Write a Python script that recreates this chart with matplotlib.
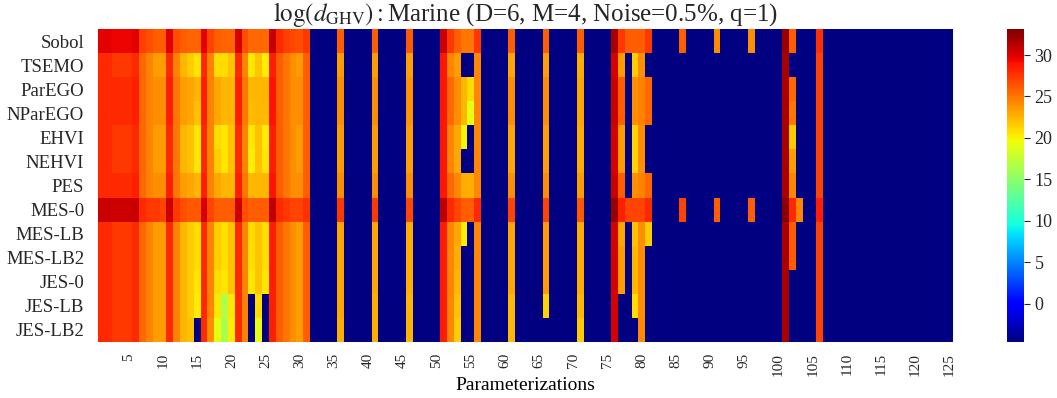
import numpy as np
import matplotlib
matplotlib.use("Agg")
import matplotlib.pyplot as plt

plt.rcParams["font.family"] = ["Liberation Serif", "DejaVu Serif"]
plt.rcParams["mathtext.fontset"] = "stix"
plt.rcParams["text.color"] = "#262626"
plt.rcParams["xtick.color"] = "#262626"
plt.rcParams["ytick.color"] = "#262626"

methods = ["Sobol", "TSEMO", "ParEGO", "NParEGO", "EHVI", "NEHVI", "PES",
           "MES-0", "MES-LB", "MES-LB2", "JES-0", "JES-LB", "JES-LB2"]
n_params = 125
LOW = -4.64  # value of the dark blue cells

# parameterizations 1-31, one list per method
warm_sobol = [29.8, 29.8, 29.5, 29.5, 29.5, 29.8, 27.2, 26.5, 26, 26, 30, 26.5, 26, 25.7, 25.7, 29.7,
              27, 26, 25.7, 25.7, 30.2, 26.5, 25.5, 25.5, 25.5, 30.8, 28, 27.2, 26.8, 26.5, 27.5]
warm_tsemo = [28, 28, 27.5, 27.5, 27.5, 28, 25.5, 24.5, 23.5, 23.5, 28, 24.5, 22.5, 21.5, 20.5, 28,
              24.5, 21, 21, 21.8, 28, 24.5, 20.5, 21.8, 20.3, 28.5, 26, 25, 24, 23.5, 26]
warm_parego = [28, 28, 28, 28, 28, 28.5, 25.5, 24.5, 24, 24, 28.5, 25, 23.5, 23, 22.5, 28.5,
               24.5, 23, 22.5, 22.5, 28.5, 25, 22.5, 22.5, 22.5, 29, 26, 25, 24, 24, 26]
warm_nparego = [28, 28, 28, 28, 28, 28.5, 25.5, 24.5, 24, 24, 28.5, 25, 23.5, 23, 22, 28.5,
                24.5, 23, 22.5, 22.5, 28.5, 25, 22.3, 22.5, 22.3, 29, 26, 25, 24, 24, 26]
warm_ehvi = [28, 28, 27.5, 27.5, 27.5, 28, 25.5, 24.5, 23.5, 23.5, 28, 25, 22.5, 22, 20.5, 28,
             24.5, 21, 20.5, 22, 28, 24.5, 20.5, 22, 20.3, 28.5, 26, 25, 24, 23.5, 26]
warm_nehvi = [28, 28, 27.5, 27.5, 27.5, 28, 25.5, 24.5, 23.5, 23.5, 28, 25, 22.5, 22, 20.5, 28,
              24.5, 21.5, 20.5, 22, 28, 24.5, 20.3, 22, 20.5, 28.5, 26, 25, 24, 23.5, 26]
warm_pes = [28, 28, 28, 28, 28, 28.5, 25.5, 24.5, 24, 24, 28.5, 25, 23.5, 23, 22.5, 28.5,
            24.5, 23, 22.5, 22.5, 28.5, 25, 22.5, 22.5, 22.5, 29, 26, 25, 24, 24, 26]
warm_mes0 = [30.7, 30.7, 30.5, 30.5, 30.5, 30.7, 28, 27.5, 27.5, 27, 30.5, 27.5, 26.5, 26.2, 26.2,
             30.2, 27, 26, 26, 26, 30.5, 26.5, 26, 26, 26, 31, 28, 27.5, 27, 27, 27.7]
warm_meslb = [28, 28, 27.5, 27.5, 27.5, 28, 25.5, 24.5, 23.5, 23.5, 28, 24.5, 22.5, 21.5, 20.8, 28,
              24.5, 21.5, 20.8, 21.8, 28, 24.5, 21, 21.8, 20.8, 28.5, 26, 25, 24, 23.5, 26]
warm_meslb2 = [28, 28, 27.5, 27.5, 27.5, 28, 25.5, 24.5, 23.5, 23.5, 28, 24.5, 22.5, 21.5, 20.8, 28,
               24.5, 21.5, 20.8, 21.8, 28, 24.5, 20.8, 21.8, 20.8, 28.5, 26, 25, 24, 23.5, 26]
warm_jes0 = [28, 28, 27.5, 27.5, 27.5, 28, 25.5, 24.5, 23.5, 23.5, 28, 24.5, 22.5, 21.5, 20.5, 28,
             24.5, 21, 20.5, 21.8, 28, 24.5, 20.5, 21.8, 20.5, 28.5, 26, 25, 24, 23.5, 26]
warm_jeslb = [28, 28, 27.5, 27.5, 27.5, 28, 25.5, 24.5, 23.5, 23.5, 28, 24.5, 22.5, 21.5, 20.3, 28,
              24.5, 20.5, 16.5, 20.5, 28, 24.5, LOW, 20.8, LOW, 28.5, 26, 25, 24, 23.5, 26]
warm_jeslb2 = [28, 28, 27.5, 27.5, 27.5, 28, 25.5, 24.5, 23.5, 23.5, 28, 24.5, 22.5, 22, LOW, 28,
               24, 19.2, 16.3, 20.3, 28, 24.5, LOW, 19.2, LOW, 28.5, 26, 25, 24, 23.5, 26]

# remaining parameterizations that are not at the floor value (column -> one value per method)
stripes = {
    36: [26, 23.5, 24, 24, 23.5, 23.5, 24, 27.5, 23, 23, 23, 23, 22.8],
    41: [26, 23.5, 24, 24, 23.5, 23.5, 24, 27.5, 23, 23, 23, 22.8, 22.8],
    46: [26.2, 23.3, 23.8, 23.8, 23.3, 23.3, 24, 26.8, 22.8, 22.8, 22.8, 22.5, 22.5],
    51: [30.7, 28.8, 28.8, 28.8, 28.8, 28.8, 28.8, 31.2, 28.6, 28.6, 28.6, 28.6, 28.6],
    52: [27.5, 24.3, 25.5, 25.5, 24.3, 24.3, 25.5, 28, 24.3, 24.3, 24.3, 24.3, 24.3],
    53: [26, 23.5, 24, 24, 23, 23, 24.3, 27, 23, 22.8, 22.5, 22, 21.5],
    54: [25, LOW, 22.5, 22.5, 20, LOW, 22.8, 26, 20.3, LOW, LOW, LOW, LOW],
    55: [25, LOW, 21, 19.2, LOW, LOW, 22.8, 26, LOW, LOW, LOW, LOW, LOW],
    56: [27.5, 24.3, 24.3, 24.3, 24.3, 24.3, 24.3, 28, 24.3, 24.3, 24.3, 24.3, 24.3],
    61: [26, 23, 24, 24, 23, 23, 24, 27, 23, 23, 23, 22.3, 22.3],
    66: [26, 23.3, 24, 24, 23.3, 23.3, 24, 27, 23.5, 23.5, 23.5, 21.3, LOW],
    71: [26, 22.7, 23, 23, 22.7, 22.7, 23.5, 26.2, 22.7, 22.7, 22.7, 22.3, 21.5],
    76: [31.7, 30.2, 30.7, 30.7, 30.2, 30.2, 30.7, 32.3, 30.2, 30.2, 30.2, 30.2, 30.2],
    77: [27.5, 23.5, 26, 26, 23.5, 23.5, 26, 28.5, 23, 23.5, 23.5, LOW, LOW],
    78: [26, LOW, LOW, LOW, LOW, LOW, LOW, 27, LOW, LOW, LOW, LOW, LOW],
    79: [26, 21.5, 24, 24, 21.3, 21.3, 24, 27, 22, 22.5, 22.5, 21, LOW],
    80: [26, 24, 24.5, 24.5, 24, 24, 24.5, 27, 24, 24, 24, 24, 24.2],
    81: [27.5, LOW, 25.5, 25.5, LOW, LOW, 25.5, 28, 21.5, LOW, LOW, LOW, LOW],
    86: [26, LOW, LOW, LOW, LOW, LOW, LOW, 27, LOW, LOW, LOW, LOW, LOW],
    91: [24, LOW, LOW, LOW, LOW, LOW, LOW, 26, LOW, LOW, LOW, LOW, LOW],
    96: [24, LOW, LOW, LOW, LOW, LOW, LOW, 26, LOW, LOW, LOW, LOW, LOW],
    101: [32.3, 31.7, 31.7, 31.7, 31.7, 31.7, 31.7, 32.8, 31.7, 31.7, 31.7, 31.7, 31.7],
    102: [26, LOW, 25.5, 25, 21.5, 23.5, 24.3, 28, 26, 26, LOW, LOW, LOW],
    103: [LOW, LOW, LOW, LOW, LOW, LOW, LOW, 24.3, LOW, LOW, LOW, LOW, LOW],
    106: [27.7, 27, 27, 27, 27, 27, 27, 28.5, 27, 27, 27, 27, 27],
}

warm = [warm_sobol, warm_tsemo, warm_parego, warm_nparego, warm_ehvi, warm_nehvi, warm_pes,
        warm_mes0, warm_meslb, warm_meslb2, warm_jes0, warm_jeslb, warm_jeslb2]

data = np.full((len(methods), n_params), LOW)
data[:, :len(warm_sobol)] = np.array(warm)
for col, vals in stripes.items():
    data[:, col - 1] = vals

fig = plt.figure(figsize=(10.57, 3.98), dpi=100)
ax = fig.add_axes([98 / 1057, 56 / 398, 855 / 1057, 313 / 398])
cax = fig.add_axes([1007 / 1057, 56 / 398, 17 / 1057, 313 / 398])

mesh = ax.pcolormesh(data, cmap="jet", vmin=-4.64, vmax=33.14)
ax.set_xlim(0, n_params)
ax.set_ylim(len(methods), 0)

xt = np.arange(5, n_params + 1, 5)
ax.set_xticks(xt - 0.5)
ax.set_xticklabels([str(v) for v in xt], rotation=90, fontsize=11)
ax.set_yticks(np.arange(len(methods)) + 0.5)
ax.set_yticklabels(methods, fontsize=13.5)
ax.tick_params(axis="x", length=0, pad=8)
ax.tick_params(axis="y", length=0, pad=10)
for s in ax.spines.values():
    s.set_visible(False)
ax.set_xlabel("Parameterizations", fontsize=14, labelpad=1)
ax.set_title(r"$\log(d_{\rm GHV}):$Marine (D=6, M=4, Noise=0.5%, q=1)", fontsize=18, pad=2)

cb = fig.colorbar(mesh, cax=cax)
cb.set_ticks([0, 5, 10, 15, 20, 25, 30])
cb.ax.tick_params(labelsize=13, length=4, width=0.8)
cb.outline.set_visible(False)

fig.savefig("out.png", dpi=100)
